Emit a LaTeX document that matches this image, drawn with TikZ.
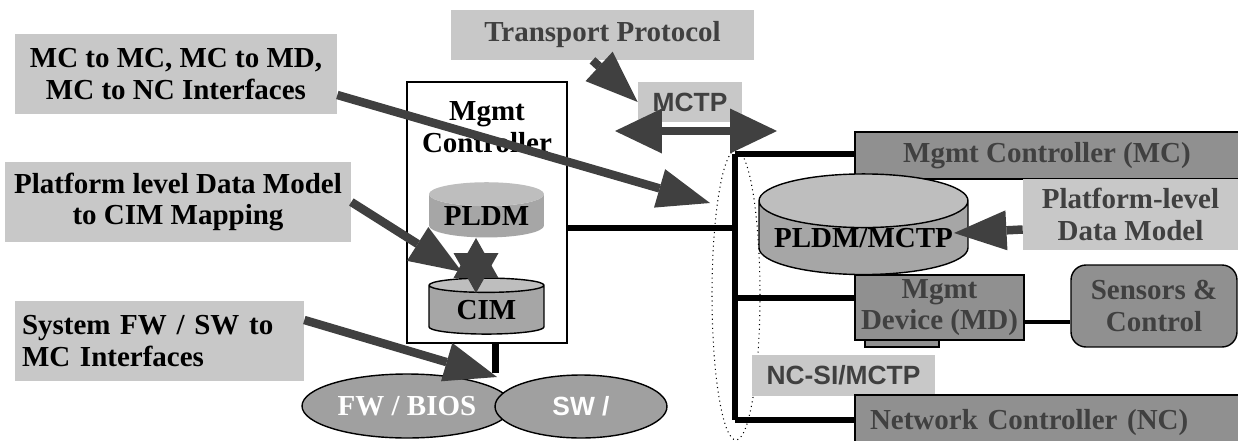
\documentclass[tikz,border=0pt]{standalone}
\usepackage{fontspec}
\setmainfont{Liberation Serif}
\newfontfamily\arialfont{Liberation Sans}
\usetikzlibrary{positioning,shapes,shapes.geometric,arrows.meta,calc,backgrounds}

\definecolor{lblgray}{HTML}{C8C8C8}
\definecolor{boxgray}{HTML}{909090}
\definecolor{cylbody}{HTML}{A6A6A6}
\definecolor{cyltop}{HTML}{BEBEBE}
\definecolor{ellgray}{HTML}{A0A0A0}
\definecolor{darkgray}{HTML}{404040}

\begin{document}
\begin{tikzpicture}
[x=0.02cm,y=-0.02cm,
   >={Triangle[length=1.05cm,width=0.8cm,line width=0pt]},
   txt/.style={font=\fontsize{16.5}{18}\selectfont\bfseries},
   sans/.style={font=\arialfont\fontsize{15}{17}\selectfont\bfseries},
   lbl/.style={txt,fill=lblgray,align=center,inner sep=0pt},
   dbox/.style={txt,draw,line width=0.8pt,fill=boxgray,text=darkgray,align=center,inner sep=0pt},
   cyl/.style={txt,cylinder,shape border rotate=90,aspect=0.28,inner sep=0pt,
     cylinder uses custom fill,cylinder body fill=cylbody,cylinder end fill=cyltop},
   ell/.style={txt,ellipse,draw,line width=0.8pt,fill=ellgray,text=white,inner sep=0pt},
   bus/.style={line width=0.12cm},
   fat/.style={draw=darkgray,line width=0.17cm,->}]
\useasboundingbox (0,0) rectangle (1238,440);

% labels on the left
\node[lbl,minimum width=6.44cm,minimum height=1.6cm] (mcl) at (176,74) {MC to MC, MC to MD,\\MC to NC Interfaces};
\node[lbl,minimum width=6.92cm,minimum height=1.6cm] (pdl) at (178,202) {Platform level Data Model\\to CIM Mapping};
\node[lbl,align=left,inner xsep=0.14cm,text width=5.5cm,minimum height=1.6cm] (sfw) at (159.5,341) {System FW / SW to\\MC Interfaces};
\node[lbl,text=darkgray,minimum width=6.06cm,minimum height=1cm] (tp) at (602.5,35) {Transport Protocol};
\node[lbl,sans,text=darkgray,minimum width=2.08cm,minimum height=0.8cm] (mctp) at (690,102) {MCTP};

% local controller
\node[draw,line width=0.8pt,fill=white,minimum width=3.2cm,minimum height=5.22cm] (mgc) at (487,212.5) {};
\node[txt,align=center] (mgct) at (487,127) {Mgmt\\Controller};
\node[cyl,minimum width=2.3cm,minimum height=0.86cm] (pldm) at (486.5,216) {PLDM};
\node[cyl,draw,line width=0.8pt,aspect=0.24,minimum width=2.3cm,minimum height=1.12cm] (cim) at (486.5,310) {CIM};

\node[ell,minimum width=4.2cm,minimum height=1.28cm] (fw) at (407,406) {FW / BIOS};
\node[ell,sans,minimum width=3.44cm,minimum height=1.26cm] (sw) at (581,406.5) {SW /};

\node[draw,dotted,line width=0.6pt,ellipse,minimum width=0.96cm,minimum height=5.8cm] (grp) at (736,295) {};

% right side
\node[dbox,minimum width=7.68cm,minimum height=0.94cm] (mcb) at (1047,155.5) {Mgmt Controller (MC)};
\node[cyl,draw,line width=0.8pt,aspect=0.3,minimum width=4.18cm,minimum height=1.42cm] (pmc) at (863.5,238) {PLDM/MCTP};
\node[lbl,text=darkgray,minimum width=4.3cm,minimum height=1.42cm] (pdm) at (1130.5,214.5) {Platform-level\\Data Model};
\node[dbox,minimum width=1.48cm,minimum height=0.34cm] (mdfoot) at (902,338.5) {};
\node[dbox,minimum width=3.38cm,minimum height=1.3cm] (md) at (939.5,307.5) {Mgmt\\Device (MD)};
\node[dbox,rounded corners=0.3cm,minimum width=3.32cm,minimum height=1.64cm] (sc) at (1154,306) {Sensors \&\\Control};
\node[lbl,sans,text=darkgray,minimum width=3.66cm,minimum height=0.82cm] (ncsi) at (843.5,375.5) {NC-SI/MCTP};
\node[dbox,align=left,inner xsep=0.3cm,text width=7.1cm,minimum height=1.1cm] (nc) at (1047.5,422.5) {Network Controller (NC)};

\coordinate (bt) at (735,154);
\coordinate (bb) at (735,420);

\begin{scope}[on background layer]
  \draw[bus] (bt) -- (bb);
  \draw[bus] (bt) -- (mcb.west |- bt);
  \draw[bus] (mgc.east |- 0,228) -- (bt |- 0,228);
  \draw[bus] (bt |- 0,298) -- (md.west |- 0,298);
  \draw[bus] (bb) -- (nc.west |- bb);
  \draw[line width=0.14cm] (mgc.south -| 495,0) -- (fw.north -| 495,0);
  \draw[line width=0.08cm] (md.east |- 0,322) -- (sc.west |- 0,322);
\end{scope}

% fat arrows
\coordinate (mcltip) at (710,203);
\coordinate (cimtip) at (462,272);
\coordinate (fwtip) at (497,377);
\coordinate (pmctip) at (954,233);
\coordinate (dl) at (615,131);
\coordinate (dr) at (777,131);
\coordinate (pt) at (476,238);
\coordinate (ct) at (476,293);

\draw[fat] ([xshift=-0.2cm]tp.south) -- (mctp.west);
\draw[fat,<->,>={Triangle[length=0.94cm,width=0.9cm,line width=0pt]}] (dl) -- (dr);
\draw[fat] ([yshift=-0.42cm]mcl.east) -- (mcltip);
\draw[fat] (pdl.east) -- (cimtip);
\draw[fat] ([yshift=0.42cm]sfw.east) -- (fwtip);
\draw[fat] ([yshift=-0.3cm]pdm.west) -- (pmctip);
\draw[draw=darkgray,line width=0.04cm,<->,>={Triangle[length=0.8cm,width=0.9cm,line width=0pt]}] (pt) -- (ct);
\end{tikzpicture}
\end{document}
